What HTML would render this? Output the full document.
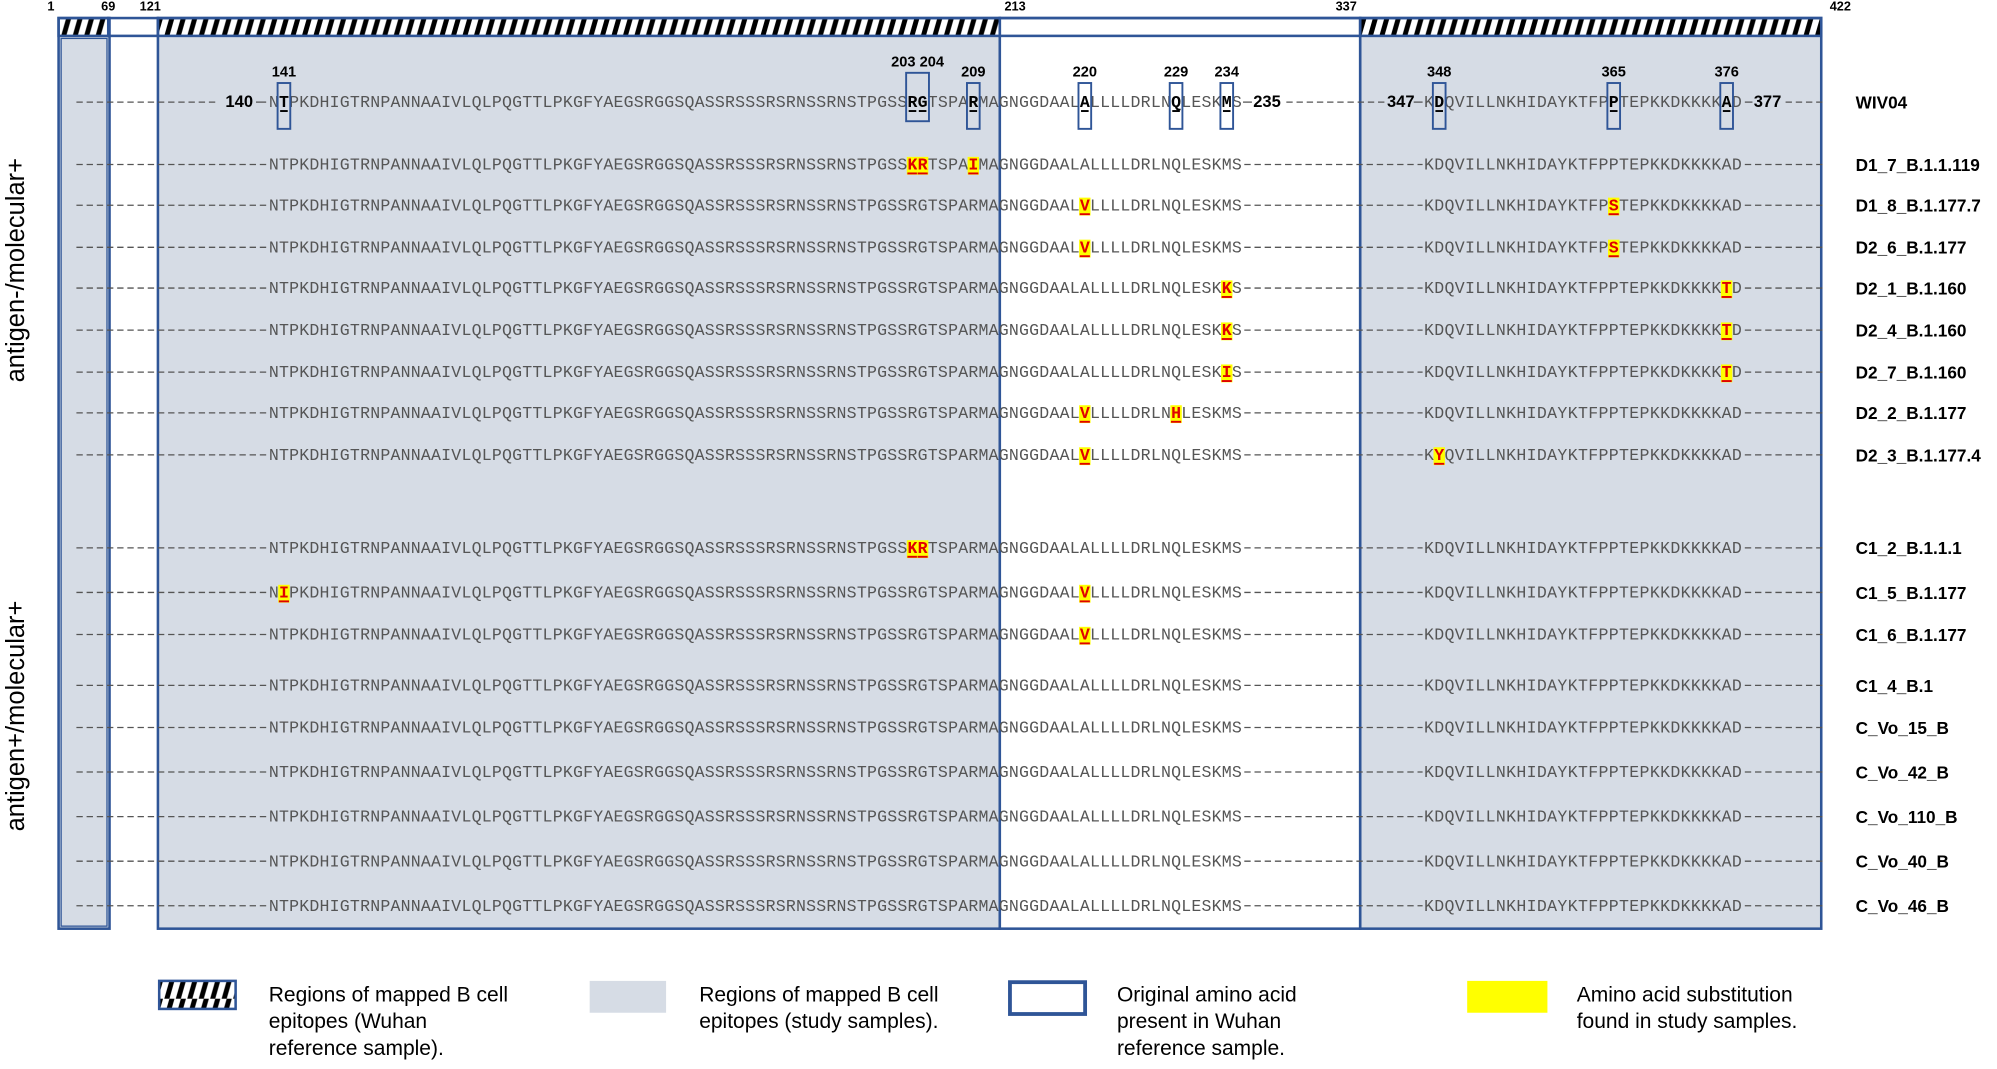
<!DOCTYPE html>
<html><head><meta charset="utf-8"><title>Sequence alignment</title>
<style>html,body{margin:0;padding:0;background:#fff}svg{display:block}</style></head>
<body>
<svg id="fig" width="1997" height="1069" viewBox="0 0 1568 839" xmlns="http://www.w3.org/2000/svg">
<defs>
<pattern id="hatch" width="9" height="14" patternUnits="userSpaceOnUse">
<rect width="9" height="14" fill="#fff"/>
<polygon points="3,14 7,14 11,0 7,0" fill="#000"/>
<polygon points="-6,14 -2,14 2,0 -2,0" fill="#000"/>
</pattern>
</defs>
<g id="regions"></g>
<g id="rows"></g>
<text transform="translate(19,212) rotate(-90)" text-anchor="middle" font-family="Liberation Sans, sans-serif" font-size="20">antigen-/molecular+</text>
<text transform="translate(19,562) rotate(-90)" text-anchor="middle" font-family="Liberation Sans, sans-serif" font-size="20">antigen+/molecular+</text>
<g font-family="Liberation Sans, sans-serif" font-size="16.5" fill="#000">
<rect x="125" y="770" width="60" height="22" fill="url(#hatch)" stroke="#2f5597" stroke-width="2"/>
<text x="211" y="786"><tspan x="211">Regions of mapped B cell</tspan><tspan x="211" dy="21">epitopes (Wuhan</tspan><tspan x="211" dy="21">reference sample).</tspan></text>
<rect x="463" y="770" width="60" height="25" fill="#d6dce5"/>
<text x="549" y="786"><tspan x="549">Regions of mapped B cell</tspan><tspan x="549" dy="21">epitopes (study samples).</tspan></text>
<rect x="793" y="771" width="59" height="25" fill="#fff" stroke="#2f5597" stroke-width="3"/>
<text x="877" y="786"><tspan x="877">Original amino acid</tspan><tspan x="877" dy="21">present in Wuhan</tspan><tspan x="877" dy="21">reference sample.</tspan></text>
<rect x="1152" y="770" width="63" height="25" fill="#ffff00"/>
<text x="1238" y="786"><tspan x="1238">Amino acid substitution</tspan><tspan x="1238" dy="21">found in study samples.</tspan></text>
</g>
</svg>
<script>
const seqA = "NTPKDHIGTRNPANNAAIVLQLPQGTTLPKGFYAEGSRGGSQASSRSSSRSRNSSRNSTPGSSRGTSPARMAGNGGDAALALLLLDRLNQLESKMS"; // starts at 140
const seqB = "KDQVILLNKHIDAYKTFPPTEPKKDKKKKAD"; // starts at 347
const refPositions = [141,203,204,209,220,229,234,348,365,376];
const sampleNames = ["D1_7_B.1.1.119","D1_8_B.1.177.7","D2_6_B.1.177","D2_1_B.1.160","D2_4_B.1.160","D2_7_B.1.160","D2_2_B.1.177","D2_3_B.1.177.4","C1_2_B.1.1.1","C1_5_B.1.177","C1_6_B.1.177","C1_4_B.1","C_Vo_15_B","C_Vo_42_B","C_Vo_110_B","C_Vo_40_B","C_Vo_46_B"];
const rowY = [129,161,194,226,259,292,324,357,430,465,498,538,571,606,641,676,711];
const mutations = [
 {203:"K",204:"R",209:"I"},{220:"V",365:"S"},{220:"V",365:"S"},{234:"K",376:"T"},{234:"K",376:"T"},{234:"I",376:"T"},
 {220:"V",229:"H"},{220:"V",348:"Y"},{203:"K",204:"R"},{141:"I",220:"V"},{220:"V"},{},{},{},{},{},{}
];
const regionBounds = [1,69,121,213,337,422];
const regionHatched = [true,false,true,false,true];
const regionGray = [true,false,true,false,true];

const NS="http://www.w3.org/2000/svg";
const regionsG=document.getElementById('regions');
const rowsG=document.getElementById('rows');
function mk(tag,attrs,parent){const e=document.createElementNS(NS,tag);for(const k in attrs)e.setAttribute(k,attrs[k]);parent.appendChild(e);return e;}
const regionX={1:46,69:85,121:124,213:785,337:1068,422:1430};
const regionLabelX={1:40,69:85,121:118,213:797,337:1057,422:1445};
const topY=14,barB=28,botY=729;
for(let i=0;i<regionBounds.length-1;i++){
 const a=regionX[regionBounds[i]],b=regionX[regionBounds[i+1]];
 if(regionGray[i]){const r=mk('rect',{x:a,y:barB,width:b-a,height:botY-barB,fill:'#d6dce5'},regionsG);
  
  }
 const h=mk('rect',{x:a,y:topY,width:b-a,height:barB-topY,fill:regionHatched[i]?'url(#hatch)':'#fff',stroke:'#2f5597','stroke-width':2},regionsG);
 
 
}
[[46,86],[124,785],[785,1068],[1068,1430]].forEach((p)=>{
 const r=mk('rect',{x:p[0],y:topY,width:p[1]-p[0],height:botY-topY,fill:'none',stroke:'#2f5597','stroke-width':2},regionsG);
 
 
});
mk('rect',{x:48,y:barB+2,width:36,height:botY-barB-4,fill:'none',stroke:'#2f5597','stroke-width':1},regionsG);
regionBounds.forEach(b=>{const t=mk('text',{x:regionLabelX[b],y:8,'text-anchor':'middle','font-family':'Liberation Sans, sans-serif','font-size':10,'font-weight':'bold'},regionsG);t.textContent=b;
 
 });
const CW=7.96, FS=13;
function xRes(r){return r<=235?211+(r-140)*CW:1118+(r-347)*8.06;}
function dash(x1,x2,y,g){const l=mk('line',{x1:x1,x2:x2,y1:y,y2:y,stroke:'#555','stroke-width':1,'stroke-dasharray':'5,3'},g);
 
 }
function drawRow(y,name,muts,isRef){
 const g=mk('g',{},rowsG);
 
 
 const segs=[[seqA,140],[seqB,347]];
 segs.forEach(([s,st])=>{for(let i=0;i<s.length;i++){const r=st+i;const x=xRes(r);let ch=s[i];
  const m=muts[r];
  if(m){ch=m;const bg=mk('rect',{x:x-0.5,y:y-10,width:CW+1,height:14,fill:'#ffff00'},g);
   
   
   mk('line',{x1:x,x2:x+CW,y1:y+3,y2:y+3,stroke:'#e00000','stroke-width':1.5},g);}
  const isMark=isRef&&refPositions.includes(r);
  const t=mk('text',{x:x+CW/2,y:y,'text-anchor':'middle','font-family':'Liberation Mono, monospace','font-size':FS,fill:m?'#e00000':(isMark?'#000':'#555'),'font-weight':(m||isMark)?'bold':'normal'},g);
  t.textContent=ch;
  if(isMark)mk('line',{x1:x+1,x2:x+CW-1,y1:y+3,y2:y+3,stroke:'#000','stroke-width':1.5},g);
 }});
 if(isRef){
  dash(60,172,y-4,g);
  const n1=mk('text',{x:177,y:y,'font-family':'Liberation Sans, sans-serif','font-size':13,'font-weight':'bold'},g);n1.textContent='140';
  mk('line',{x1:201,x2:209,y1:y-4,y2:y-4,stroke:'#555'},g);
  mk('line',{x1:976,x2:983,y1:y-4,y2:y-4,stroke:'#555'},g);
  const n2=mk('text',{x:984,y:y,'font-family':'Liberation Sans, sans-serif','font-size':13,'font-weight':'bold'},g);n2.textContent='235';
  dash(1010,1088,y-4,g);
  const n3=mk('text',{x:1089,y:y,'font-family':'Liberation Sans, sans-serif','font-size':13,'font-weight':'bold'},g);n3.textContent='347';
  mk('line',{x1:1110,x2:1117,y1:y-4,y2:y-4,stroke:'#555'},g);
  mk('line',{x1:1370,x2:1376,y1:y-4,y2:y-4,stroke:'#555'},g);
  const n4=mk('text',{x:1377,y:y,'font-family':'Liberation Sans, sans-serif','font-size':13,'font-weight':'bold'},g);n4.textContent='377';
  dash(1402,1432,y-4,g);
 } else {
  dash(60,210,y-4,g);dash(977,1117,y-4,g);dash(1370,1432,y-4,g);
 }
 const lb=mk('text',{x:1457,y:y+1,'font-family':'Liberation Sans, sans-serif','font-size':13.5,'font-weight':'bold'},g);lb.textContent=name;
 
 
}
drawRow(84,'WIV04',{},true);
const boxGroups=[[141],[203,204],[209],[220],[229],[234],[348],[365],[376]];
const boxLabels=["141","203 204","209","220","229","234","348","365","376"];
boxGroups.forEach((grp,i)=>{
 const x1=xRes(grp[0])-1,x2=xRes(grp[grp.length-1])+CW+1;
 const b=mk('rect',{x:x1,y:grp.length>1?57:65,width:x2-x1,height:grp.length>1?38:36,fill:'none',stroke:'#2f5597','stroke-width':1.5},rowsG);
 
 
 const t=mk('text',{x:(x1+x2)/2,y:grp.length>1?52:60,'text-anchor':'middle','font-family':'Liberation Sans, sans-serif','font-size':11.5,'font-weight':'bold'},rowsG);
 t.textContent=boxLabels[i];
 
 
});
sampleNames.forEach((n,i)=>drawRow(rowY[i]+4,n,mutations[i],false));
</script>
</body></html>
